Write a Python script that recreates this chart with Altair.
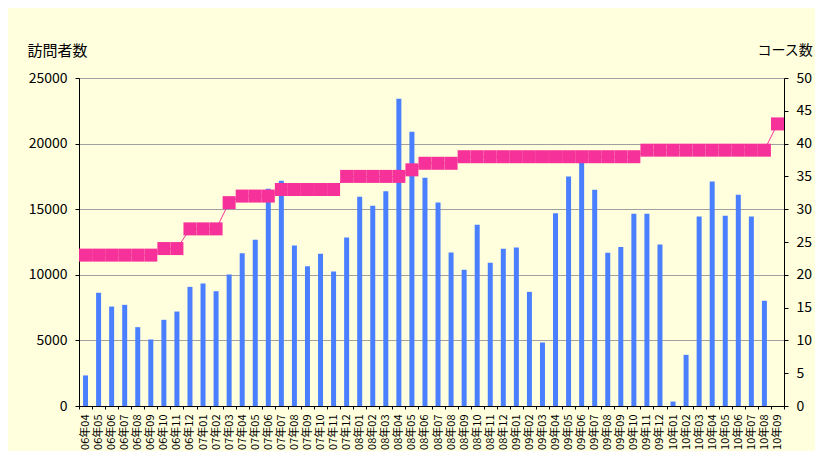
import altair as alt
import pandas as pd

months = [
    "06年04", "06年05", "06年06", "06年07", "06年08", "06年09", "06年10", "06年11", "06年12",
    "07年01", "07年02", "07年03", "07年04", "07年05", "07年06", "07年07", "07年08", "07年09",
    "07年10", "07年11", "07年12", "08年01", "08年02", "08年03", "08年04", "08年05", "08年06",
    "08年07", "08年08", "08年09", "08年10", "08年11", "08年12", "09年01", "09年02", "09年03",
    "09年04", "09年05", "09年06", "09年07", "09年08", "09年09", "09年10", "09年11", "09年12",
    "10年01", "10年02", "10年03", "10年04", "10年05", "10年06", "10年07", "10年08", "10年09",
]

visitors = [
    2330, 8630, 7580, 7710, 6010, 5070, 6570, 7200, 9080,
    9340, 8750, 10020, 11650, 12670, 16560, 17170, 12230, 10660,
    11600, 10250, 12840, 15940, 15260, 16370, 23420, 20900, 17390,
    15510, 11700, 10380, 13810, 10920, 11980, 12080, 8700, 4840,
    14700, 17490, 18580, 16480, 11680, 12110, 14650, 14650, 12310,
    340, 3900, 14440, 17110, 14500, 16100, 14440, 8020, None,
]

courses = [
    23, 23, 23, 23, 23, 23, 24, 24, 27,
    27, 27, 31, 32, 32, 32, 33, 33, 33,
    33, 33, 35, 35, 35, 35, 35, 36, 37,
    37, 37, 38, 38, 38, 38, 38, 38, 38,
    38, 38, 38, 38, 38, 38, 38, 39, 39,
    39, 39, 39, 39, 39, 39, 39, 39, 43,
]

df = pd.DataFrame({"month": months, "visitors": visitors, "courses": courses})

FONT = "Noto Sans CJK JP"
PINK = "#F7319A"
BLUE = "#4A80FF"

xenc = alt.X(
    "month:N",
    sort=None,
    scale=alt.Scale(paddingInner=0, paddingOuter=0),
    axis=alt.Axis(
        title=None,
        labelAngle=-90,
        labelFontSize=11,
        labelColor="black",
        labelPadding=5,
        tickBand="extent",
        tickColor="black",
        tickSize=3,
        domainColor="black",
        grid=False,
    ),
)

bars = alt.Chart(df).mark_bar(size=5, color=BLUE).encode(
    x=xenc,
    y=alt.Y(
        "visitors:Q",
        scale=alt.Scale(domain=[0, 25000], nice=False),
        axis=alt.Axis(
            title="訪問者数",
            titleAngle=0,
            titleAlign="left",
            titleBaseline="middle",
            titleX=-52,
            titleY=-28,
            titleFontSize=15,
            titleFontWeight="normal",
            titleColor="black",
            values=[0, 5000, 10000, 15000, 20000, 25000],
            format="d",
            labelFontSize=14,
            labelColor="black",
            labelPadding=8,
            tickColor="black",
            tickSize=4,
            domainColor="black",
            grid=True,
            gridColor="#A0A0A0",
            gridWidth=1,
        ),
    ),
)

line = alt.Chart(df).mark_line(
    color=PINK,
    strokeWidth=1,
    point=alt.OverlayMarkDef(shape="square", size=169, filled=True, color=PINK, opacity=1),
).encode(
    x=xenc,
    y=alt.Y(
        "courses:Q",
        scale=alt.Scale(domain=[0, 50], nice=False),
        axis=alt.Axis(
            orient="right",
            title="コース数",
            titleAngle=0,
            titleAlign="left",
            titleBaseline="middle",
            titleX=-27,
            titleY=-28,
            titleFontSize=14,
            titleFontWeight="normal",
            titleColor="black",
            values=list(range(0, 55, 5)),
            format="d",
            labelFontSize=14,
            labelColor="black",
            labelPadding=8,
            tickColor="black",
            tickSize=4,
            domainColor="black",
            grid=False,
        ),
    ),
)

chart = (
    alt.layer(bars, line)
    .resolve_scale(y="independent")
    .properties(
        width=705,
        height=328,
        background="#FFFFDD",
        autosize=alt.AutoSizeParams(type="none"),
        padding={"left": 71, "top": 70, "right": 31, "bottom": 45},
    )
    .configure_view(fill="white", stroke=None)
    .configure(font=FONT)
)

chart.save("out.html", embed_options={"renderer": "svg", "actions": False})
